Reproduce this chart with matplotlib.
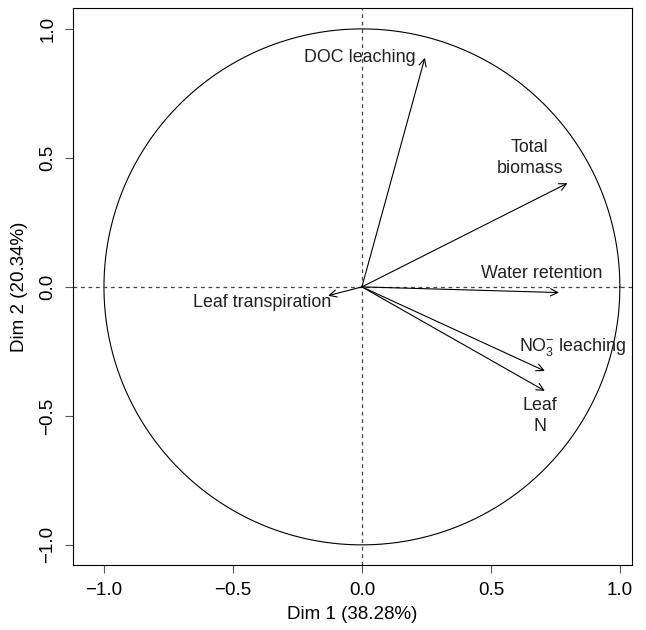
import numpy as np
import matplotlib
matplotlib.use("Agg")
import matplotlib.pyplot as plt

plt.rcParams['font.family'] = ['Liberation Sans', 'DejaVu Sans']
plt.rcParams['mathtext.fontset'] = 'custom'
plt.rcParams['mathtext.rm'] = 'Liberation Sans'
plt.rcParams['mathtext.it'] = 'Liberation Sans'

##################################
# Data: variable coordinates on Dim 1 / Dim 2
variables = ['DOC leaching', 'Total biomass', 'Water retention',
             'Leaf transpiration', 'NO3 leaching', 'Leaf N']
dim1 = [0.244, 0.797, 0.764, -0.131, 0.709, 0.709]
dim2 = [0.888, 0.402, -0.022, -0.034, -0.326, -0.403]
labels = ['DOC leaching', 'Total\nbiomass', 'Water retention',
          'Leaf transpiration', r'NO$_3^{-}$ leaching', 'Leaf\nN']
label_x = [-0.01, 0.651, 0.698, -0.388, 0.818, 0.69]
label_y = [0.89, 0.50, 0.05, -0.062, -0.233, -0.50]
ticks = [-1.0, -0.5, 0.0, 0.5, 1.0]

##################################
# Figure
fig = plt.figure(figsize=(6.46, 6.30), dpi=100)
ax = fig.add_axes([73/646, 1-565/630, 559/646, 557/630])

theta = np.linspace(0, 2*np.pi, 400)
ax.plot(np.cos(theta), np.sin(theta), color='k', lw=0.8)
ax.axhline(0, color='#444444', lw=0.9, ls=(0, (3, 3)))
ax.axvline(0, color='#444444', lw=0.9, ls=(0, (3, 3)))

for x, y in zip(dim1, dim2):
    ax.annotate('', xy=(x, y), xytext=(0, 0),
                arrowprops=dict(arrowstyle='->', color='k', lw=0.8,
                                shrinkA=0, shrinkB=0, mutation_scale=13))
for lab, x, y in zip(labels, label_x, label_y):
    ax.text(x, y, lab, ha='center', va='center', fontsize=12.9,
            color='#222222', linespacing=1.35)

ax.set_xlim(-1.120, 1.047)
ax.set_ylim(-1.078, 1.081)
ax.set_xticks(ticks)
ax.set_yticks(ticks)
ax.set_xticklabels([f'{t:.1f}'.replace('-', '\u2212') for t in ticks], fontsize=13.5)
ax.set_yticklabels([f'{t:.1f}'.replace('-', '\u2212') for t in ticks], fontsize=13.5,
                   rotation=90, va='center')
ax.tick_params(direction='out', length=6, width=0.8, color='#555555', pad=6)
for s in ax.spines.values():
    s.set_linewidth(0.8)
ax.set_xlabel('Dim 1 (38.28%)', fontsize=13.5, labelpad=5)
ax.set_ylabel('Dim 2 (20.34%)', fontsize=13.5, labelpad=8)

fig.savefig('out.png', dpi=100)
